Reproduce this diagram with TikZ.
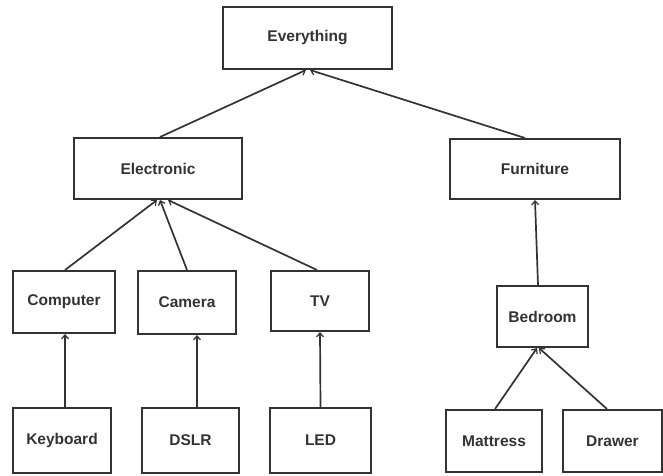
\documentclass[tikz,border=0pt]{standalone}
\usepackage{fontspec}
\setmainfont{Liberation Sans}
\usetikzlibrary{arrows.meta}
\definecolor{ink}{HTML}{333333}
\begin{document}
\begin{tikzpicture}[x=1pt,y=-1pt,
  box/.style={draw=ink,line width=2pt,rectangle,inner sep=0pt,text=ink,
    font=\fontsize{15.5}{18}\selectfont\bfseries},
  arr/.style={draw=ink,line width=1.7pt,-{Straight Barb[length=4pt,width=7pt,line width=1.2pt]}}]
\useasboundingbox (0,0) rectangle (663,475);
\fill[white] (0,0) rectangle (663,475);
\node[box,minimum width=169pt,minimum height=62pt] (every) at (307.5,38) {Everything};
\node[box,minimum width=168pt,minimum height=61pt] (elec) at (158,168.5) {Electronic};
\node[box,minimum width=170pt,minimum height=60pt] (furn) at (535,169) {Furniture};
\node[box,minimum width=102pt,minimum height=62pt] (comp) at (64,302) {Computer};
\node[box,minimum width=98pt,minimum height=63pt] (cam) at (187,302.5) {Camera};
\node[box,minimum width=98pt,minimum height=60pt] (tv) at (320,301) {TV};
\node[box,minimum width=91pt,minimum height=61pt] (bed) at (542.5,316.5) {Bedroom};
\node[box,minimum width=98pt,minimum height=65pt] (key) at (62,440.5) {Keyboard};
\node[box,minimum width=97pt,minimum height=65pt] (dslr) at (190.5,440.5) {DSLR};
\node[box,minimum width=101pt,minimum height=65pt] (led) at (320.5,440.5) {LED};
\node[box,minimum width=96pt,minimum height=62pt] (matt) at (494,441) {Mattress};
\node[box,minimum width=99pt,minimum height=62pt] (drawer) at (612.5,441) {Drawer};
\draw[arr] ([xshift=2pt]elec.north) -- ([xshift=-1.5pt]every.south);
\draw[arr] ([xshift=-10pt]furn.north) -- ([xshift=2.5pt]every.south);
\draw[arr] ([xshift=1pt]comp.north) -- ([xshift=-1pt]elec.south);
\draw[arr] (cam.north) -- ([xshift=2pt]elec.south);
\draw[arr] ([xshift=-3pt]tv.north) -- ([xshift=10pt]elec.south);
\draw[arr] ([xshift=-4.5pt]bed.north) -- (furn.south);
\draw[arr] ([xshift=3pt]key.north) -- ([xshift=1pt]comp.south);
\draw[arr] ([xshift=6.5pt]dslr.north) -- ([xshift=10pt]cam.south);
\draw[arr] (led.north) -- (tv.south);
\draw[arr] ([xshift=1pt]matt.north) -- ([xshift=-5.5pt]bed.south);
\draw[arr] ([xshift=-5.5pt]drawer.north) -- ([xshift=-3.5pt]bed.south);
\end{tikzpicture}
\end{document}
